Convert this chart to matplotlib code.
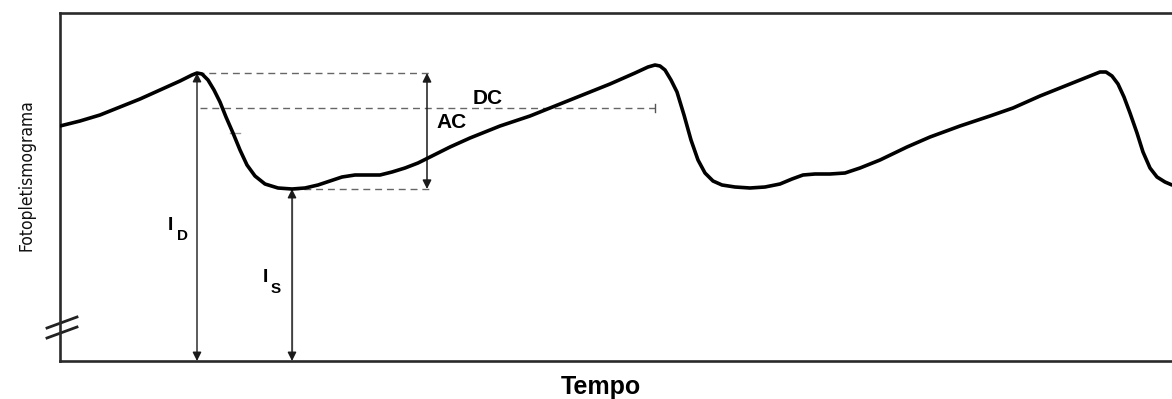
import numpy as np
import matplotlib
matplotlib.use("Agg")
import matplotlib.pyplot as plt

plt.rcParams['font.family'] = ['Liberation Sans', 'DejaVu Sans']

# curva do fotopletismograma
tempo = [0, 20, 40, 60, 80, 100, 120, 132, 137,
         142, 148, 154, 160, 166, 173, 180, 187, 195, 205,
         218, 232, 245, 258, 270, 282, 295, 308, 320, 332,
         345, 358, 370, 390, 410, 440, 470, 490, 520, 550,
         575, 588, 595, 600, 605, 611, 617, 624, 631, 638,
         645, 653, 662, 675, 690, 705, 720, 732, 743, 755,
         770, 785, 800, 820, 847, 870, 900, 930, 953, 980,
         1010, 1030, 1040, 1046, 1052, 1058, 1064, 1070, 1077, 1083,
         1090, 1097, 1105, 1112]
sinal = [235, 240, 246, 254, 262, 271, 280, 286, 288,
         287, 281, 271, 259, 244, 228, 211, 196, 185, 177,
         173, 172, 173, 176, 180, 184, 186, 186, 186, 189,
         193, 198, 204, 214, 223, 235, 245, 253, 265, 277,
         288, 294, 296, 295, 291, 281, 269, 246, 221, 201,
         188, 180, 176, 174, 173, 174, 177, 182, 186, 187,
         187, 188, 193, 201, 214, 224, 235, 245, 253, 265,
         277, 285, 289, 289, 285, 277, 264, 248, 228, 209,
         193, 184, 179, 176]

nivel_dc = 253
fim_dc = 595
fim_ac = 372
t_ac = 367

t = np.array(tempo)
v = np.array(sinal)
ciclo1 = t < 400
i_pico = np.argmax(np.where(t < 200, v, -1))
i_vale = np.argmin(np.where(ciclo1, v, 999))
t_pico, v_pico = t[i_pico], v[i_pico]
t_vale, v_vale = t[i_vale], v[i_vale]

fig = plt.figure(figsize=(11.72, 3.99), dpi=100)
ax = fig.add_axes([60/1172, 38/399, 1112/1172, 348/399])
ax.set_xlim(0, 1112)
ax.set_ylim(0, 348)
ax.set_xticks([])
ax.set_yticks([])
ax.spines['right'].set_visible(False)
for s in ['left', 'top', 'bottom']:
    ax.spines[s].set_linewidth(1.9)
    ax.spines[s].set_color('#2a2a2a')

# linhas tracejadas
dash = dict(color='#666666', lw=1.0, dashes=(5, 3.5))
ax.plot([t_pico, fim_ac], [v_pico, v_pico], **dash)
ax.plot([t_vale, fim_ac], [v_vale, v_vale], **dash)
ax.plot([t_pico + 3, fim_dc], [nivel_dc, nivel_dc], **dash)
ax.plot([fim_dc, fim_dc], [nivel_dc - 4, nivel_dc + 4], color='#555555', lw=1.0)
ax.plot([170, 180], [228, 228], color='#999999', lw=1.0)

# curva
ax.plot(t, v, color='black', lw=2.6, solid_joinstyle='round', solid_capstyle='round', zorder=5)

# setas
ax.annotate('', xy=(t_pico, 0), xytext=(t_pico, v_pico),
            arrowprops=dict(arrowstyle='<|-|>', color='#1a1a1a', lw=1.0,
                            mutation_scale=13, shrinkA=0, shrinkB=0))
ax.annotate('', xy=(t_vale, 0), xytext=(t_vale, v_vale),
            arrowprops=dict(arrowstyle='<|-|>', color='#1a1a1a', lw=1.0,
                            mutation_scale=13, shrinkA=0, shrinkB=0))
ax.plot([t_vale, t_vale], [6, v_vale - 6], color='#999999', lw=1.0)
ax.annotate('', xy=(t_ac, v_vale), xytext=(t_ac, v_pico),
            arrowprops=dict(arrowstyle='<|-|>', color='#1a1a1a', lw=1.1,
                            mutation_scale=13, shrinkA=0, shrinkB=0))

# textos
ax.text(428, 262, 'DC', fontsize=15, fontweight='bold', ha='center', va='center')
ax.text(392, 239, 'AC', fontsize=15, fontweight='bold', ha='center', va='center')
ax.text(110, 136, 'I', fontsize=14, fontweight='bold', ha='center', va='center')
ax.text(123, 125, 'D', fontsize=11, fontweight='bold', ha='center', va='center')
ax.text(205, 83, 'I', fontsize=14, fontweight='bold', ha='center', va='center')
ax.text(216, 72, 'S', fontsize=11, fontweight='bold', ha='center', va='center')

# quebra do eixo
ax.plot([-13, 17], [33, 44], color='#222222', lw=2.0, clip_on=False)
ax.plot([-13, 17], [23, 34], color='#222222', lw=2.0, clip_on=False)

fig.text(601/1172, 1 - 387/399, 'Tempo', fontsize=18, fontweight='bold',
         ha='center', va='center')
fig.text(27/1172, 1 - 175/399, 'Fotopletismograma', fontsize=12.5, rotation=90,
         ha='center', va='center', family='DejaVu Sans', fontstretch='condensed',
         color='#111111')

fig.savefig('out.png', dpi=100)
